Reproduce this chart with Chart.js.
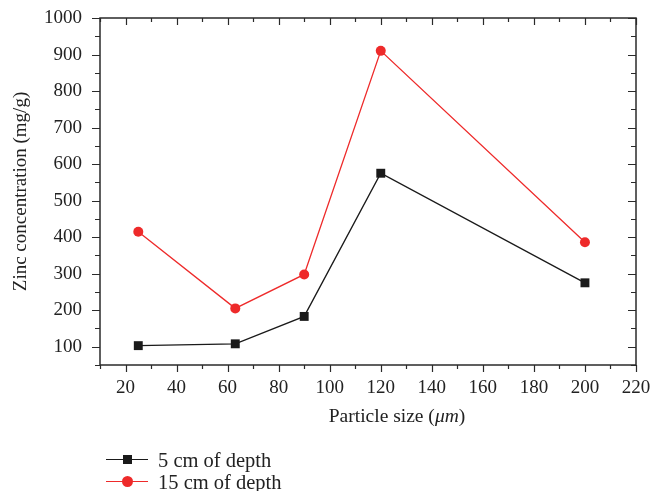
<!DOCTYPE html>
<html>
<head>
<meta charset="utf-8">
<script src="https://cdn.jsdelivr.net/npm/chart.js@4/dist/chart.umd.min.js"></script>
<style>
  html, body { margin: 0; padding: 0; background: #fff; }
  #wrap { position: relative; width: 662px; height: 491px; font-family: "Liberation Serif", "DejaVu Serif", serif; color: #222; }
  #c { position: absolute; left: 0; top: 0; }
  .xt { position: absolute; left: 297px; top: 404px; width: 200px; text-align: center; font-size: 19.5px; line-height: 24px; }
  .lg { position: absolute; left: 106px; height: 22px; font-size: 20.5px; line-height: 22px; }
  .lg .ln { position: absolute; left: 0; top: 10px; width: 42px; height: 0; border-top: 1.3px solid; }
  .lg .mk { position: absolute; }
  .lg .tx { position: absolute; left: 52px; top: 0; white-space: nowrap; }
</style>
</head>
<body>
<div id="wrap">
  <canvas id="c" width="662" height="491"></canvas>
  <div class="xt">Particle size (<i>μm</i>)</div>
  <div class="lg" style="top:449px">
    <div class="ln" style="border-color:#1a1a1a"></div>
    <div class="mk" style="left:17px;top:6px;width:9px;height:9px;background:#1a1a1a"></div>
    <div class="tx">5 cm of depth</div>
  </div>
  <div class="lg" style="top:471px">
    <div class="ln" style="border-color:#ee2a2a"></div>
    <div class="mk" style="left:16px;top:5px;width:11px;height:11px;border-radius:50%;background:#ee2a2a"></div>
    <div class="tx">15 cm of depth</div>
  </div>
</div>
<script>
// Data
const particleSize = [25, 63, 90, 120, 200];
const depth5cm = [103, 108, 183, 575, 275];
const depth15cm = [415, 205, 298, 910, 386];
const seriesNames = ["5 cm of depth", "15 cm of depth"];
const yTitle = "Zinc concentration (mg/g)";
const xRange = [10, 220];
const yRange = [50, 1000];
const xMajorStep = 20, xMinorStep = 10;
const yMajorStep = 100, yMinorStep = 50;

const frameColor = '#2a2a2a';

const framePlugin = {
  id: 'frame',
  afterDraw(chart) {
    const { ctx, chartArea: { left, right, top, bottom }, scales: { x, y } } = chart;
    ctx.save();
    ctx.strokeStyle = frameColor;
    ctx.lineWidth = 1.5;
    ctx.strokeRect(left, top, right - left, bottom - top);
    ctx.lineWidth = 1.2;
    ctx.beginPath();
    for (let v = xRange[0]; v <= xRange[1] + 1e-9; v += xMinorStep) {
      const px = Math.round(x.getPixelForValue(v)) + 0.5;
      const major = Math.abs(v % xMajorStep) < 1e-9;
      const L = major ? 7 : 4;
      ctx.moveTo(px, bottom); ctx.lineTo(px, bottom + L);
      ctx.moveTo(px, top); ctx.lineTo(px, top + L);
    }
    for (let v = yRange[0]; v <= yRange[1] + 1e-9; v += yMinorStep) {
      const py = Math.round(y.getPixelForValue(v)) + 0.5;
      const major = Math.abs(v % yMajorStep) < 1e-9;
      const L = major ? 8 : 5;
      ctx.moveTo(left, py); ctx.lineTo(left - L, py);
      ctx.moveTo(right, py); ctx.lineTo(right - L, py);
    }
    ctx.stroke();
    ctx.restore();
  }
};

const tickFont = { family: '"Liberation Serif", "DejaVu Serif", serif', size: 19 };

new Chart(document.getElementById('c'), {
  type: 'line',
  data: {
    datasets: [
      {
        label: seriesNames[0],
        data: particleSize.map((v, i) => ({ x: v, y: depth5cm[i] })),
        borderColor: '#1a1a1a',
        backgroundColor: '#1a1a1a',
        borderWidth: 1.3,
        pointStyle: 'rect',
        pointRadius: 6.3,
        pointBorderWidth: 0,
        tension: 0
      },
      {
        label: seriesNames[1],
        data: particleSize.map((v, i) => ({ x: v, y: depth15cm[i] })),
        borderColor: '#ee2a2a',
        backgroundColor: '#ee2a2a',
        borderWidth: 1.3,
        pointStyle: 'circle',
        pointRadius: 5,
        pointBorderWidth: 0,
        tension: 0
      }
    ]
  },
  options: {
    responsive: false,
    animation: false,
    devicePixelRatio: 1,
    layout: { padding: { left: 0, top: 18, right: 26, bottom: 86 } },
    plugins: { legend: { display: false }, tooltip: { enabled: false } },
    scales: {
      x: {
        type: 'linear',
        min: xRange[0], max: xRange[1],
        grid: { display: false, drawTicks: false },
        border: { display: false },
        ticks: { stepSize: xMajorStep, includeBounds: false, font: tickFont, color: '#222', padding: 12, maxRotation: 0, autoSkip: false, callback: v => String(v) },
        afterFit(scale) { scale.height = 40; scale.paddingLeft = 0; scale.paddingRight = 0; }
      },
      y: {
        type: 'linear',
        min: yRange[0], max: yRange[1],
        grid: { display: false, drawTicks: false },
        border: { display: false },
        ticks: { stepSize: yMajorStep, includeBounds: false, font: tickFont, color: '#222', padding: 18, autoSkip: false, callback: v => String(v) },
        title: { display: true, text: yTitle, font: tickFont, color: '#222', padding: { top: 10, bottom: 0 } },
        afterFit(scale) { scale.width = 100; scale.paddingTop = 0; scale.paddingBottom = 0; }
      }
    }
  },
  plugins: [framePlugin]
});
</script>
</body>
</html>
